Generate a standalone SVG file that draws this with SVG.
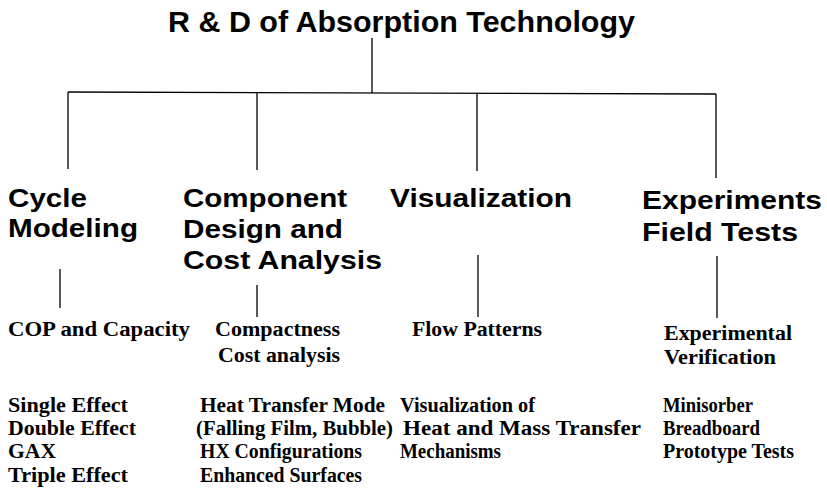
<svg xmlns="http://www.w3.org/2000/svg" width="827" height="488" viewBox="0 0 827 488">
<style>
.title{font-family:"Liberation Sans",Arial,sans-serif;font-weight:bold;font-size:29px;fill:#000}
.head{font-family:"Liberation Sans",Arial,sans-serif;font-weight:bold;font-size:25px;fill:#000}
.item{font-family:"Liberation Serif","Times New Roman",serif;font-weight:bold;font-size:20px;fill:#000}
.conn line{stroke:#000;stroke-width:1.3;fill:none}
</style>
<rect width="827" height="488" fill="#fff"/>
<g id="connectors" class="conn">
<line x1="372" y1="38" x2="372" y2="93"/>
<line x1="68" y1="92" x2="716" y2="94"/>
<line x1="68" y1="92" x2="68" y2="169"/>
<line x1="257" y1="92.5" x2="257" y2="170"/>
<line x1="477" y1="93" x2="477" y2="171"/>
<line x1="716" y1="94" x2="716" y2="178"/>
<line x1="60" y1="269" x2="60" y2="308"/>
<line x1="257" y1="285" x2="257" y2="317"/>
<line x1="478" y1="255" x2="478" y2="317"/>
<line x1="717" y1="256" x2="717" y2="318"/>
</g>
<g id="root"><text class="title" x="168" y="32" textLength="467" lengthAdjust="spacingAndGlyphs">R &amp; D of Absorption Technology</text></g>
<g id="cycle">
<text class="head" x="8" y="207" textLength="79" lengthAdjust="spacingAndGlyphs">Cycle</text>
<text class="head" x="8" y="237" textLength="130" lengthAdjust="spacingAndGlyphs">Modeling</text>
</g>
<g id="component">
<text class="head" x="183" y="207" textLength="164" lengthAdjust="spacingAndGlyphs">Component</text>
<text class="head" x="183" y="238" textLength="160" lengthAdjust="spacingAndGlyphs">Design and</text>
<text class="head" x="183" y="269" textLength="199" lengthAdjust="spacingAndGlyphs">Cost Analysis</text>
</g>
<g id="visualization">
<text class="head" x="390" y="207" textLength="182" lengthAdjust="spacingAndGlyphs">Visualization</text>
</g>
<g id="experiments">
<text class="head" x="642" y="209" textLength="180" lengthAdjust="spacingAndGlyphs">Experiments</text>
<text class="head" x="642" y="241" textLength="156" lengthAdjust="spacingAndGlyphs">Field Tests</text>
</g>
<g id="cop">
<text class="item" x="8" y="336" textLength="182" lengthAdjust="spacingAndGlyphs">COP and Capacity</text>
</g>
<g id="compactness">
<text class="item" x="215" y="336" textLength="125" lengthAdjust="spacingAndGlyphs">Compactness</text>
<text class="item" x="218" y="362" textLength="122" lengthAdjust="spacingAndGlyphs">Cost analysis</text>
</g>
<g id="flow">
<text class="item" x="412" y="336" textLength="130" lengthAdjust="spacingAndGlyphs">Flow Patterns</text>
</g>
<g id="verification">
<text class="item" x="664" y="340" textLength="128" lengthAdjust="spacingAndGlyphs">Experimental</text>
<text class="item" x="664" y="364" textLength="112" lengthAdjust="spacingAndGlyphs">Verification</text>
</g>
<g id="cycles">
<text class="item" x="8" y="412" textLength="120" lengthAdjust="spacingAndGlyphs">Single Effect</text>
<text class="item" x="8" y="435" textLength="128" lengthAdjust="spacingAndGlyphs">Double Effect</text>
<text class="item" x="8" y="458" textLength="48" lengthAdjust="spacingAndGlyphs">GAX</text>
<text class="item" x="8" y="482" textLength="120" lengthAdjust="spacingAndGlyphs">Triple Effect</text>
</g>
<g id="heat-transfer">
<text class="item" x="200" y="412" textLength="185" lengthAdjust="spacingAndGlyphs">Heat Transfer Mode</text>
<text class="item" x="196" y="435" textLength="197" lengthAdjust="spacingAndGlyphs">(Falling Film, Bubble)</text>
<text class="item" x="200" y="458" textLength="162" lengthAdjust="spacingAndGlyphs">HX Configurations</text>
<text class="item" x="200" y="482" textLength="162" lengthAdjust="spacingAndGlyphs">Enhanced Surfaces</text>
</g>
<g id="mechanisms">
<text class="item" x="400" y="412" textLength="135" lengthAdjust="spacingAndGlyphs">Visualization of</text>
<text class="item" x="403" y="435" textLength="238" lengthAdjust="spacingAndGlyphs">Heat and Mass Transfer</text>
<text class="item" x="400" y="458" textLength="101" lengthAdjust="spacingAndGlyphs">Mechanisms</text>
</g>
<g id="tests">
<text class="item" x="663" y="412" textLength="90" lengthAdjust="spacingAndGlyphs">Minisorber</text>
<text class="item" x="663" y="435" textLength="97" lengthAdjust="spacingAndGlyphs">Breadboard</text>
<text class="item" x="663" y="458" textLength="131" lengthAdjust="spacingAndGlyphs">Prototype Tests</text>
</g>
</svg>
